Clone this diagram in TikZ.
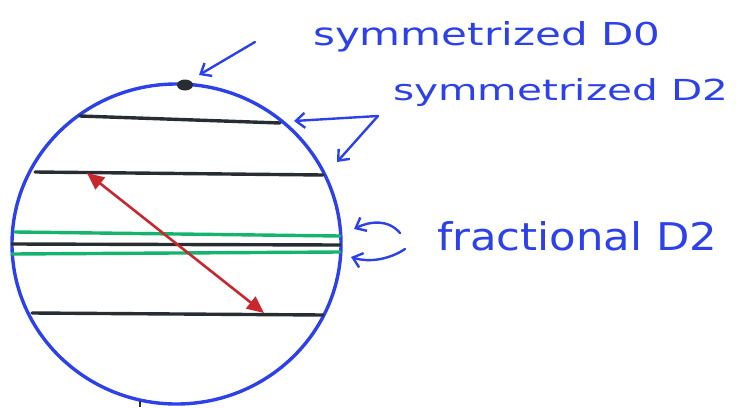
\documentclass[tikz,border=0pt]{standalone}
\usepackage{fontspec}
\setmainfont{DejaVu Sans}
\usetikzlibrary{arrows.meta,shapes.geometric}
\definecolor{pen}{RGB}{45,65,235}
\definecolor{ink}{RGB}{40,45,50}
\definecolor{grn}{RGB}{20,180,110}
\definecolor{rd}{RGB}{200,40,45}
\tikzset{
  rim/.style={draw=pen, line width=3.4pt},
  brane/.style={draw=ink, line width=3.4pt, line cap=round},
  fbrane/.style={draw=grn, line width=3.4pt, line cap=round},
  pointer/.style={draw=pen, line width=2.4pt, line cap=round, -{Straight Barb[length=9pt,width=15pt,line width=2.4pt]}},
  lbl/.style={text=pen, inner sep=0pt, anchor=base west},
  string/.style={draw=rd, line width=2.6pt, {Triangle[length=17pt,width=15pt]}-{Triangle[length=17pt,width=15pt]}}
}
\begin{document}
\begin{tikzpicture}[x=1pt,y=-1pt]
\useasboundingbox (0,0) rectangle (736,407);
% sphere
\draw[rim] (176.5,244) ellipse [x radius=164.5, y radius=160];
% D0
\node[ellipse, fill=ink, minimum width=16pt, minimum height=11pt, inner sep=0pt, draw=none] (d0) at (185,85) {};
% symmetrized D2 branes
\draw[brane] (80,116) -- (280,123);
\draw[brane] (35,172) -- (323,175);
\draw[brane] (32,313) -- (323,315);
% fractional D2 branes
\draw[fbrane] (15,232) -- (340,236);
\draw[brane] (12,244) -- (340,245);
\draw[fbrane] (12,254) -- (340,252);
% open string
\coordinate (sa) at (87,173);
\coordinate (sb) at (264,313);
\draw[string] (sa) -- (sb);
% small tick at bottom
\coordinate (t1) at (140,401);
\coordinate (t2) at (140,407);
\draw[ink, line width=2pt] (t1) -- (t2);
% labels
\node[lbl] (l0) at (313,45) {\resizebox{347pt}{24pt}{symmetrized D0}};
\node[lbl] (l2) at (393,100) {\resizebox{335pt}{22pt}{symmetrized D2}};
\node[lbl] (lf) at (437,250) {\resizebox{280pt}{29pt}{fractional D2}};
% pointers
\coordinate (p0) at (255,42);
\coordinate (q0) at (199,75);
\draw[pointer] (p0) -- (q0);
\coordinate (p2) at (378,116);
\coordinate (q2a) at (294,121);
\coordinate (q2b) at (337,162);
\draw[pointer] (p2) -- (q2a);
\draw[pointer] (p2) -- (q2b);
\coordinate (pf1) at (400,233);
\coordinate (qf1) at (354,229);
\coordinate (pf2) at (405,249);
\coordinate (qf2) at (351,257);
\draw[pointer] (pf1) .. controls (388,219) and (370,221) .. (qf1);
\draw[pointer] (pf2) .. controls (390,259) and (370,263) .. (qf2);
\end{tikzpicture}
\end{document}
